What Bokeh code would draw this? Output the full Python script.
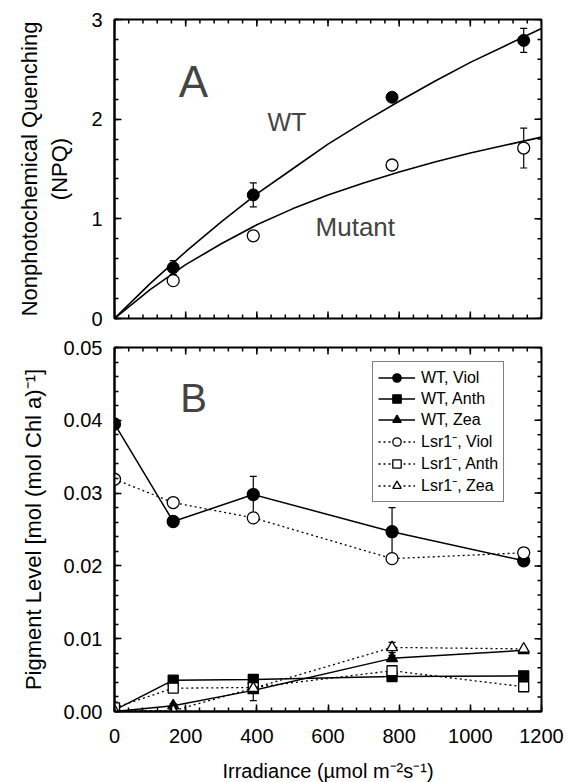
import numpy as np
from bokeh.plotting import figure
from bokeh.models import Range1d, Legend, LegendItem, Label, FixedTicker, NumeralTickFormatter
from bokeh.layouts import column
from bokeh.embed import file_html
from bokeh.resources import INLINE

# ---------------- Panel A data ----------------
npq_x = [165, 390, 780, 1150]
npq_wt = [0.51, 1.24, 2.22, 2.79]
npq_wt_err = [0.07, 0.12, 0.03, 0.12]
npq_mut = [0.38, 0.83, 1.54, 1.71]
npq_mut_err = [0.03, 0.03, 0.03, 0.20]

fit_x = [0, 100, 200, 300, 400, 500, 600, 700, 800, 900, 1000, 1100, 1200]
fit_wt = [0.0, 0.35, 0.67, 0.97, 1.25, 1.50, 1.75, 1.97, 2.18, 2.38, 2.57, 2.74, 2.91]
fit_mut = [0.0, 0.29, 0.54, 0.75, 0.94, 1.10, 1.24, 1.36, 1.47, 1.57, 1.66, 1.74, 1.82]

# ---------------- Panel B data ----------------
irr = [0, 165, 390, 780, 1150]
wt_viol = [0.0395, 0.0261, 0.0298, 0.0247, 0.0207]
wt_viol_err = [0.0004, 0.0006, 0.0025, 0.0033, 0.0003]
wt_anth = [0.0002, 0.0043, 0.0044, 0.0048, 0.0049]
wt_zea = [0.0000, 0.0008, 0.0029, 0.0073, 0.0084]
wt_zea_err = [0.0, 0.0003, 0.0, 0.0004, 0.0]
lsr_viol = [0.0319, 0.0287, 0.0266, 0.0210, 0.0218]
lsr_viol_err = [0.0, 0.0, 0.0, 0.0005, 0.0]
lsr_anth = [0.0005, 0.0032, 0.0033, 0.0056, 0.0034]
lsr_anth_err = [0.0008, 0.0004, 0.0, 0.0004, 0.0004]
lsr_zea = [0.0001, 0.0001, 0.0032, 0.0088, 0.0086]
lsr_zea_err = [0.0, 0.0, 0.0017, 0.0007, 0.0]

x_ticks = [0, 200, 400, 600, 800, 1000, 1200]
x_minor = list(range(0, 1201, 40))
a_ticks = [0, 1, 2, 3]
a_minor = [round(i * 0.2, 3) for i in range(16)]
b_ticks = [0.0, 0.01, 0.02, 0.03, 0.04, 0.05]
b_minor = [round(i * 0.002, 4) for i in range(26)]

FONT = "Liberation Sans"
TICK_FS = "20px"
MAJ_LEN = 7
MIN_LEN = 4


def style_axis(ax):
    ax.axis_line_width = 2
    ax.axis_line_color = "black"
    ax.major_tick_in = MAJ_LEN
    ax.major_tick_out = 0
    ax.minor_tick_in = MIN_LEN
    ax.minor_tick_out = 0
    ax.major_tick_line_width = 1.5
    ax.minor_tick_line_width = 1.5
    ax.major_tick_line_color = "black"
    ax.minor_tick_line_color = "black"
    ax.major_label_text_font = FONT
    ax.major_label_text_font_size = TICK_FS
    ax.major_label_text_color = "black"
    ax.axis_label_text_font = FONT
    ax.axis_label_text_font_style = "normal"
    ax.axis_label_text_color = "black"


def edge_ticks(p, y_lo, y_hi, yticks, yminor, bottom):
    # ticks on the top (and optionally bottom) and right edges, pointing inward
    p.scatter(x_ticks, [y_hi] * len(x_ticks), marker="dash", angle=np.pi / 2,
              size=2 * MAJ_LEN, line_color="black", line_width=1.5)
    p.scatter(x_minor, [y_hi] * len(x_minor), marker="dash", angle=np.pi / 2,
              size=2 * MIN_LEN, line_color="black", line_width=1.5)
    if bottom:
        p.scatter(x_ticks, [y_lo] * len(x_ticks), marker="dash", angle=np.pi / 2,
                  size=2 * MAJ_LEN, line_color="black", line_width=1.5)
        p.scatter(x_minor, [y_lo] * len(x_minor), marker="dash", angle=np.pi / 2,
                  size=2 * MIN_LEN, line_color="black", line_width=1.5)
    p.scatter([1200] * len(yticks), yticks, marker="dash", size=2 * MAJ_LEN,
              line_color="black", line_width=1.5)
    p.scatter([1200] * len(yminor), yminor, marker="dash", size=2 * MIN_LEN,
              line_color="black", line_width=1.5)


def make_fig(y0, y1, frame_h, top, bottom, yticks, yminor):
    p = figure(frame_width=427, frame_height=frame_h,
               x_range=Range1d(0, 1200), y_range=Range1d(y0, y1),
               output_backend="svg", toolbar_location=None,
               min_border_left=114, min_border_right=26,
               min_border_top=top, min_border_bottom=bottom,
               background_fill_color="white", border_fill_color="white")
    p.grid.visible = False
    p.outline_line_color = "black"
    p.outline_line_width = 2
    xax = p.below[0]
    yax = p.left[0]
    xax.ticker = FixedTicker(ticks=x_ticks, minor_ticks=x_minor)
    yax.ticker = FixedTicker(ticks=yticks, minor_ticks=yminor)
    style_axis(xax)
    style_axis(yax)
    return p, xax, yax


# ---------------- Panel A ----------------
pa, pa_x, pa_y = make_fig(0, 3, 299, 19, 14, a_ticks, a_minor)
pa_x.visible = False
pa_y.axis_label = "Nonphotochemical Quenching\n(NPQ)"
pa_y.axis_label_text_font_size = "22px"
pa_y.major_label_standoff = 12
pa_y.axis_label_standoff = 16
edge_ticks(pa, 0, 3, a_ticks, a_minor, True)

pa.line(fit_x, fit_wt, line_color="black", line_width=1.6)
pa.line(fit_x, fit_mut, line_color="black", line_width=1.6)

wt_lo = [v - e for v, e in zip(npq_wt, npq_wt_err)]
wt_hi = [v + e for v, e in zip(npq_wt, npq_wt_err)]
mu_lo = [v - e for v, e in zip(npq_mut, npq_mut_err)]
mu_hi = [v + e for v, e in zip(npq_mut, npq_mut_err)]
for lo, hi in ((wt_lo, wt_hi), (mu_lo, mu_hi)):
    pa.segment(npq_x, lo, npq_x, hi, line_color="black", line_width=1.2)
    pa.scatter(npq_x, lo, marker="dash", size=7, line_color="black", line_width=1.2)
    pa.scatter(npq_x, hi, marker="dash", size=7, line_color="black", line_width=1.2)

pa.scatter(npq_x, npq_wt, marker="circle", size=12, fill_color="black", line_color="black")
pa.scatter(npq_x, npq_mut, marker="circle", size=12, fill_color="white",
           line_color="black", line_width=1.3)

pa.add_layout(Label(x=222, y=2.38, text="A", text_font=FONT, text_font_size="44px",
                    text_align="center", text_baseline="middle"))
pa.add_layout(Label(x=430, y=1.97, text="WT", text_font=FONT, text_font_size="25px",
                    text_align="left", text_baseline="middle"))
pa.add_layout(Label(x=565, y=0.92, text="Mutant", text_font=FONT, text_font_size="26px",
                    text_align="left", text_baseline="middle"))

# ---------------- Panel B ----------------
pb, pb_x, pb_y = make_fig(0, 0.05, 364, 15, 0, b_ticks, b_minor)
pb_y.axis_label = "Pigment Level [mol (mol Chl a)\u207b\u00b9]"
pb_y.axis_label_text_font_size = "22px"
pb_y.formatter = NumeralTickFormatter(format="0.00")
pb_y.major_label_standoff = 12
pb_y.axis_label_standoff = 15
pb_x.axis_label = "Irradiance (\u00b5mol m\u207b\u00b2s\u207b\u00b9)"
pb_x.axis_label_text_font_size = "20px"
pb_x.major_label_standoff = 17
pb_x.axis_label_standoff = 14
edge_ticks(pb, 0, 0.05, b_ticks, b_minor, False)


def errbars(p, ys, errs):
    xs = [x for x, e in zip(irr, errs) if e > 0]
    lo = [y - e for y, e in zip(ys, errs) if e > 0]
    hi = [y + e for y, e in zip(ys, errs) if e > 0]
    p.segment(xs, lo, xs, hi, line_color="black", line_width=1.2)
    p.scatter(xs, lo, marker="dash", size=7, line_color="black", line_width=1.2)
    p.scatter(xs, hi, marker="dash", size=7, line_color="black", line_width=1.2)


for ys, errs in ((wt_viol, wt_viol_err), (wt_zea, wt_zea_err), (lsr_viol, lsr_viol_err),
                 (lsr_anth, lsr_anth_err), (lsr_zea, lsr_zea_err)):
    errbars(pb, ys, errs)

series = [
    ("WT, Viol", wt_viol, "circle", 12, "black", "solid"),
    ("WT, Anth", wt_anth, "square", 10, "black", "solid"),
    ("WT, Zea", wt_zea, "triangle", 11, "black", "solid"),
    ("Lsr1\u207b, Viol", lsr_viol, "circle", 12, "white", "2 3"),
    ("Lsr1\u207b, Anth", lsr_anth, "square", 10, "white", "2 3"),
    ("Lsr1\u207b, Zea", lsr_zea, "triangle", 11, "white", "2 3"),
]
items = []
for name, ys, mk, sz, fill, dash in series:
    lw = 1.5 if dash == "solid" else 1.3
    ln = pb.line(irr, ys, line_color="black", line_width=lw, line_dash=dash)
    sc = pb.scatter(irr, ys, marker=mk, size=sz, fill_color=fill, line_color="black",
                    line_width=1.3)
    items.append(LegendItem(label=name, renderers=[ln, sc]))

legend = Legend(items=items, location=(258, 209), orientation="vertical",
                label_text_font=FONT, label_text_font_size="16px",
                label_text_color="black",
                glyph_width=37, glyph_height=21, label_height=21, label_standoff=6,
                spacing=0, padding=5, margin=0,
                border_line_color="black", border_line_width=1.2,
                background_fill_color="white", background_fill_alpha=1.0)
pb.add_layout(legend, "center")

pb.add_layout(Label(x=222, y=0.0430, text="B", text_font=FONT, text_font_size="40px",
                    text_align="center", text_baseline="middle"))

layout = column(pa, pb, spacing=0)
open("out.html", "w").write(file_html(layout, INLINE))
